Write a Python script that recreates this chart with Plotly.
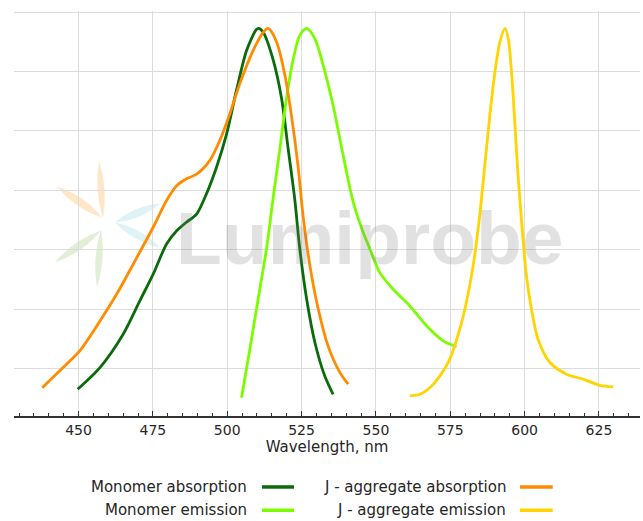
import plotly.graph_objects as go

# ---- data (normalized intensity) ----
mono_abs_x = [449.7, 457.2, 465.0, 470.6, 475.1, 479.6, 483.0, 486.3, 489.7, 493.0, 496.4, 499.8,
              503.1, 506.5, 509.8, 510.6, 512.1, 515.4, 518.3, 520.5, 522.7, 524.4, 526.7, 529.5,
              532.8, 535.6]
mono_abs_y = [0.069, 0.125, 0.211, 0.297, 0.366, 0.444, 0.478, 0.500, 0.521, 0.573, 0.642, 0.728,
              0.840, 0.943, 0.997, 1.000, 0.990, 0.920, 0.818, 0.689, 0.560, 0.431, 0.302, 0.189,
              0.103, 0.056]

jagg_abs_x = [437.8, 444.8, 450.4, 457.2, 462.8, 468.4, 475.1, 479.6, 483.0, 486.3, 489.7, 494.1,
              497.5, 500.9, 504.2, 508.7, 512.1, 513.8, 516.6, 519.4, 521.6, 523.8, 525.5, 527.8,
              530.6, 533.9, 537.9, 540.7]
jagg_abs_y = [0.073, 0.125, 0.168, 0.245, 0.314, 0.392, 0.487, 0.556, 0.594, 0.612, 0.624, 0.659,
              0.711, 0.780, 0.857, 0.943, 0.990, 1.000, 0.965, 0.879, 0.775, 0.646, 0.517, 0.388,
              0.276, 0.181, 0.112, 0.082]

mono_em_x = [504.8, 507.6, 510.4, 513.2, 515.4, 517.7, 519.9, 522.2, 524.4, 526.7, 529.5, 532.3,
             535.6, 539.0, 542.4, 545.7, 548.0, 551.3, 555.8, 561.4, 567.0, 572.6, 577.1]
mono_em_y = [0.047, 0.172, 0.302, 0.431, 0.560, 0.689, 0.818, 0.921, 0.982, 1.000, 0.973, 0.904,
             0.801, 0.672, 0.551, 0.474, 0.431, 0.370, 0.327, 0.284, 0.233, 0.194, 0.179]

jagg_em_x = [561.4, 564.8, 568.1, 571.5, 574.8, 578.2, 580.4, 582.7, 584.9, 586.6, 588.3, 590.0,
             591.7, 593.4, 594.5, 595.6, 596.7, 597.8, 599.0, 600.6, 602.3, 604.5, 608.5, 614.1,
             619.7, 625.3, 629.8]
jagg_em_y = [0.052, 0.056, 0.073, 0.103, 0.146, 0.224, 0.293, 0.388, 0.517, 0.646, 0.775, 0.887,
             0.965, 1.000, 0.973, 0.887, 0.758, 0.620, 0.500, 0.362, 0.276, 0.198, 0.138, 0.108,
             0.095, 0.079, 0.075]

series_names = ["Monomer absorption", "Monomer emission",
                "J - aggregate absorption", "J - aggregate emission"]
series_colors = ["#0b6b0b", "#7cfc00", "#ff8c00", "#ffd400"]

x_ticks = [450, 475, 500, 525, 550, 575, 600, 625]

FONT = "DejaVu Sans"
TXT = "#262626"

# ---- figure geometry (pixels) ----
W, H = 643, 521
L, R, T, B = 14, 3, 10.5, 105.3
PW, PH = W - L - R, H - T - B


def px2paper(px, py):
    return (px - L) / PW, (H - B - py) / PH


fig = go.Figure()
all_x = [mono_abs_x, mono_em_x, jagg_abs_x, jagg_em_x]
all_y = [mono_abs_y, mono_em_y, jagg_abs_y, jagg_em_y]
for xs, ys, name, col in zip(all_x, all_y, series_names, series_colors):
    fig.add_trace(go.Scatter(x=xs, y=ys, name=name, mode="lines",
                             line=dict(color=col, width=2.8, shape="spline", smoothing=0.8),
                             showlegend=False))

shapes = []


def petal(p0, p1, w, color):
    (x0, y0), (x1, y1) = p0, p1
    mx, my = (x0 + x1) / 2, (y0 + y1) / 2
    dx, dy = x1 - x0, y1 - y0
    ln = (dx * dx + dy * dy) ** 0.5
    nx, ny = -dy / ln * w, dx / ln * w
    pts = [px2paper(x0, y0), px2paper(mx + nx, my + ny), px2paper(x1, y1),
           px2paper(mx - nx, my - ny)]
    path = "M {0[0]},{0[1]} Q {1[0]},{1[1]} {2[0]},{2[1]} Q {3[0]},{3[1]} {0[0]},{0[1]} Z".format(*pts)
    shapes.append(dict(type="path", xref="paper", yref="paper", path=path,
                       fillcolor=color, line=dict(width=0), layer="below"))


# watermark logo petals
petal((57, 186), (102, 217), 8, "rgba(253,222,180,0.75)")
petal((99, 160), (103, 218), 7, "rgba(253,222,180,0.75)")
petal((55, 262), (101, 230), 8, "rgba(214,233,200,0.75)")
petal((97, 287), (101, 229), 7, "rgba(214,233,200,0.75)")
petal((160, 203), (115, 222), 8, "rgba(215,240,244,0.8)")
petal((160, 247), (115, 222), 8, "rgba(215,240,244,0.8)")

annotations = [dict(text="Lumiprobe", xref="paper", yref="paper",
                    x=px2paper(370, 0)[0], y=px2paper(0, 238)[1],
                    xanchor="center", yanchor="middle", showarrow=False,
                    font=dict(family="Liberation Sans Narrow, Liberation Sans", size=75,
                              weight="bold", color="rgba(120,120,120,0.22)"))]

# manual legend: text then line sample
leg_rows = [486.7, 510.0]
leg_text_right = [249.5, 507.5]
leg_line = [(262, 294), (520, 552.7)]
order = [(0, 0, 0), (1, 1, 0), (2, 0, 1), (3, 1, 1)]
for idx, row, col in order:
    xt, yt = px2paper(leg_text_right[col], leg_rows[row])
    annotations.append(dict(text=series_names[idx], xref="paper", yref="paper", x=xt, y=yt,
                            xanchor="right", yanchor="middle", showarrow=False,
                            font=dict(family=FONT, size=15, color=TXT)))
    xa, ya = px2paper(leg_line[col][0], leg_rows[row])
    xb, _ = px2paper(leg_line[col][1], leg_rows[row])
    shapes.append(dict(type="line", xref="paper", yref="paper", x0=xa, x1=xb, y0=ya, y1=ya,
                       line=dict(color=series_colors[idx], width=3.5)))

fig.update_layout(
    width=W, height=H,
    margin=dict(l=L, r=R, t=T, b=B, pad=0),
    paper_bgcolor="white", plot_bgcolor="white",
    font=dict(family=FONT, size=14, color=TXT),
    shapes=shapes, annotations=annotations,
    xaxis=dict(range=[428.3, 638.8], tickvals=x_ticks, ticktext=[str(v) for v in x_ticks],
               ticks="inside", ticklen=5, tickwidth=1, tickcolor="#333",
               minor=dict(dtick=5, tick0=450, ticks="inside", ticklen=3, tickcolor="#333",
                          showgrid=False),
               showline=True, linecolor="#333", linewidth=1.5,
               showgrid=True, gridcolor="#dcdcdc", gridwidth=1, zeroline=False,
               tickfont=dict(family=FONT, size=14, color=TXT),
               title=dict(text="Wavelength, nm", font=dict(family=FONT, size=15, color=TXT),
                          standoff=5)),
    yaxis=dict(range=[0, 1.045], tick0=0.1223, dtick=0.1533, showticklabels=False,
               ticks="", showline=False, showgrid=True, gridcolor="#dcdcdc", gridwidth=1,
               zeroline=False),
)

fig.write_html("out.html", config={"displayModeBar": False},
               post_script="document.body.style.margin='0px';document.body.style.overflow='hidden';")
